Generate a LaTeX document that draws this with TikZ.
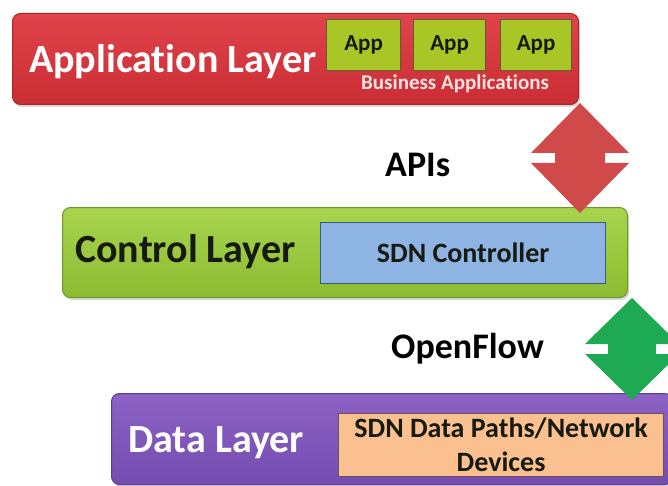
\documentclass[tikz,border=0pt]{standalone}
\usepackage{fontspec}
\setmainfont{Carlito}[RawFeature=-liga]
\usetikzlibrary{calc,shadows}

% palette
\definecolor{appRedTop}{RGB}{224,68,74}
\definecolor{appRedBot}{RGB}{202,46,52}
\definecolor{appRedLine}{RGB}{170,38,44}
\definecolor{appLime}{RGB}{170,198,38}
\definecolor{appLimeLine}{RGB}{90,96,56}
\definecolor{ctrlTop}{RGB}{168,212,78}
\definecolor{ctrlBot}{RGB}{140,188,50}
\definecolor{ctrlLine}{RGB}{110,150,40}
\definecolor{sdnBlue}{RGB}{141,180,226}
\definecolor{sdnLine}{RGB}{58,90,140}
\definecolor{dataTop}{RGB}{140,98,196}
\definecolor{dataBot}{RGB}{116,76,176}
\definecolor{dataLine}{RGB}{92,60,146}
\definecolor{devOrange}{RGB}{250,192,143}
\definecolor{devLine}{RGB}{110,80,90}
\definecolor{apiRed}{RGB}{208,74,74}
\definecolor{flowGreen}{RGB}{30,170,82}
\definecolor{darkText}{RGB}{22,26,16}
\definecolor{bizText}{RGB}{250,226,226}

\tikzset{
  layerbox/.style n args={3}{rounded corners=8pt, line width=1pt, inner sep=0pt,
    anchor=north west, top color=#1, bottom color=#2, draw=#3,
    drop shadow={opacity=0.3, shadow xshift=1.5pt, shadow yshift=-2.5pt}},
  innerbox/.style={line width=1.2pt, inner sep=0pt, anchor=north west,
    align=center, font=\fontsize{28}{34}\selectfont\bfseries, text=darkText},
  appbox/.style={innerbox, fill=appLime, draw=appLimeLine,
    minimum height=51pt, font=\fontsize{23}{28}\selectfont\bfseries},
  layertitle/.style={anchor=base west, inner sep=0pt,
    font=\fontsize{40}{48}\selectfont\bfseries},
  linklabel/.style={anchor=base west, inner sep=0pt, text=black,
    font=\fontsize{36}{43}\selectfont\bfseries}
}

% two-headed vertical arrow with a narrow stem between the heads
% #1 top tip, #2 bottom tip, #3 head half width, #4 stem half width, #5 colour
\newcommand\layerarrow[5]{%
  \fill[#5] let \p1=(#1), \p2=(#2), \n1={(\y1+\y2)/2} in
    (\p1) -- (\x1+#3,\n1+5pt) -- (\x1+#4,\n1+5pt) -- (\x1+#4,\n1-5pt)
    -- (\x1+#3,\n1-5pt) -- (\p2) -- (\x1-#3,\n1-5pt) -- (\x1-#4,\n1-5pt)
    -- (\x1-#4,\n1+5pt) -- (\x1-#3,\n1+5pt) -- cycle;
}

\begin{document}
\begin{tikzpicture}[x=1pt, y=-1pt]
  \clip (0,0) rectangle (668,486);
  \fill[white] (0,0) rectangle (668,486);

  % application layer
  \node[layerbox={appRedTop}{appRedBot}{appRedLine},
        minimum width=566pt, minimum height=91pt] (app) at (12,13) {};
  \node[layertitle, text=white] (appTitle) at (29,73) {Application Layer};
  \node[appbox, minimum width=74pt] (app1) at (326,19) {App};
  \node[appbox, minimum width=72pt] (app2) at (413,19) {App};
  \node[appbox, minimum width=71pt] (app3) at (500,19) {App};
  \node[anchor=base, inner sep=0pt, text=bizText,
        font=\fontsize{21}{25}\selectfont\bfseries] (biz) at (455,90)
        {Business Applications};

  % control layer
  \node[layerbox={ctrlTop}{ctrlBot}{ctrlLine},
        minimum width=565pt, minimum height=90pt] (ctrl) at (62,207) {};
  \node[layertitle, text=darkText] (ctrlTitle) at (75,262) {Control Layer};
  \node[innerbox, fill=sdnBlue, draw=sdnLine,
        minimum width=285pt, minimum height=61pt] (sdn) at (320,222)
        {SDN Controller};

  % data layer
  \node[layerbox={dataTop}{dataBot}{dataLine},
        minimum width=561pt, minimum height=91pt] (data) at (111,393) {};
  \node[layertitle, text=white] (dataTitle) at (128,452) {Data Layer};
  \node[innerbox, fill=devOrange, draw=devLine,
        minimum width=325pt, minimum height=63pt] (dev) at (338,413)
        {SDN Data Paths/Network\\Devices};

  % interface labels
  \node[linklabel] (apis) at (385,177) {APIs};
  \node[linklabel] (openflow) at (391,358) {OpenFlow};

  % arrows between the layers
  \coordinate (apiTop) at (580,103);
  \coordinate (apiBot) at (580,213);
  \coordinate (flowTop) at (632,298);
  \coordinate (flowBot) at (632,400);
  \layerarrow{apiTop}{apiBot}{49pt}{25pt}{apiRed}
  \layerarrow{flowTop}{flowBot}{47pt}{24pt}{flowGreen}
\end{tikzpicture}
\end{document}
